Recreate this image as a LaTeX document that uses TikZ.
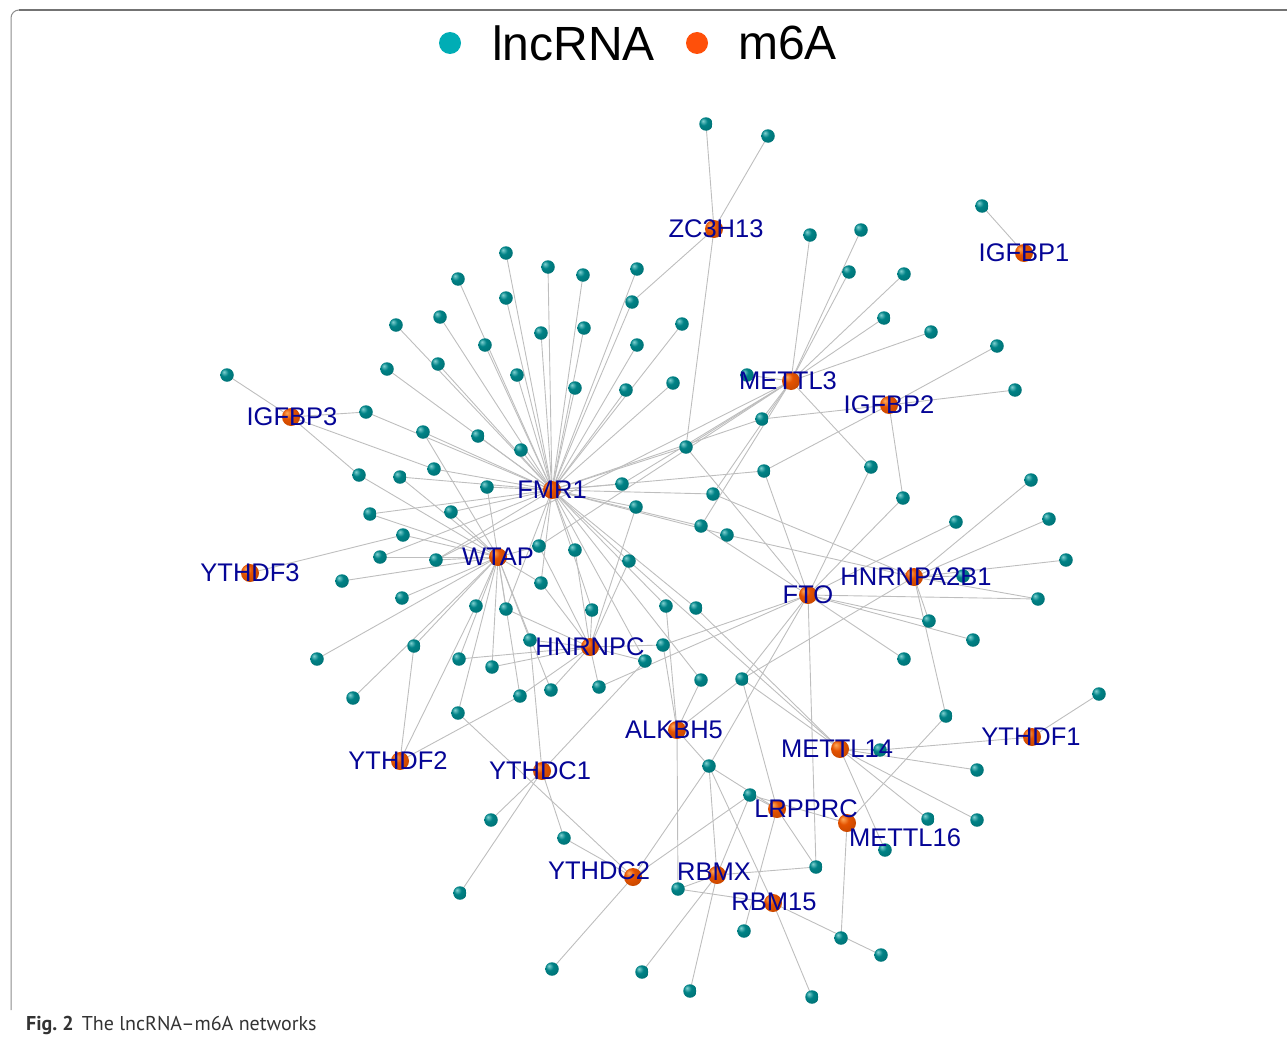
\documentclass[tikz,border=0pt]{standalone}
\usepackage{fontspec}
\setmainfont{Liberation Sans}
\newfontfamily\capfont{PT Sans}
\usetikzlibrary{backgrounds}
\definecolor{tealc}{RGB}{0,130,134}
\definecolor{tealhi}{RGB}{130,210,210}
\definecolor{orangec}{RGB}{228,82,0}
\definecolor{orangehi}{RGB}{255,170,90}
\definecolor{legteal}{RGB}{0,173,181}
\definecolor{legorange}{RGB}{255,80,10}
\definecolor{navy}{RGB}{5,5,150}
\definecolor{edgec}{RGB}{190,190,190}
\pgfdeclareradialshading{tball}{\pgfpoint{-12bp}{12bp}}{color(0bp)=(tealhi); color(14bp)=(tealc); color(36bp)=(tealc!85!black); color(60bp)=(tealc!45!black)}
\pgfdeclareradialshading{oball}{\pgfpoint{-12bp}{12bp}}{color(0bp)=(orangehi); color(14bp)=(orangec); color(36bp)=(orangec!85!black); color(60bp)=(orangec!50!black)}
\tikzset{
  lnc/.style={circle, minimum size=13.5pt, inner sep=0pt, shading=tball},
  hub/.style={circle, minimum size=18pt, inner sep=0pt, shading=oball},
  lab/.style={text=navy, font=\fontsize{25.5}{28}\selectfont, inner sep=0pt},
  edge/.style={draw=edgec, line width=0.9pt},
}
\begin{document}
\begin{tikzpicture}[x=1pt,y=-1pt]
\useasboundingbox (0,0) rectangle (1287,1041);
% frame
\draw[line width=1pt, black!45, rounded corners=8pt] (11,1010) -- (11,10) -- (1287,10);
\draw[line width=2pt, black!55] (19,10) -- (1287,10);
% legend
\node[circle, fill=legteal, minimum size=22pt, inner sep=0pt] (legA) at (450,43) {};
\node[anchor=west, inner sep=0pt, font=\fontsize{48}{48}\selectfont] (legtA) at (492,43) {lncRNA};
\node[circle, fill=legorange, minimum size=22pt, inner sep=0pt] (legB) at (697,43) {};
\node[anchor=west, inner sep=0pt, font=\fontsize{48}{48}\selectfont] (legtB) at (738,43) {m6A};
% lncRNA nodes
\foreach \n/\x/\y in {
1/706/124, 2/768/136, 3/982/206, 4/506/253, 5/810/235, 6/861/230, 7/458/279, 8/548/267,
9/583/275, 10/637/269, 11/849/272, 12/904/274, 13/506/298, 14/632/302, 15/440/317, 16/396/325,
17/682/324, 18/541/333, 19/584/328, 20/884/318, 21/931/332, 22/485/345, 23/637/345, 24/997/346,
25/438/364, 26/387/369, 27/227/375, 28/517/375, 29/575/388, 30/626/390, 31/673/383, 32/747/375,
33/1015/390, 34/366/412, 35/762/419, 36/423/432, 37/478/436, 38/521/450, 39/686/447, 40/871/467,
41/764/471, 42/359/475, 43/400/477, 44/434/469, 45/487/487, 46/622/484, 47/713/494, 48/1031/480,
49/903/498, 50/636/507, 51/370/514, 52/451/512, 53/956/522, 54/1049/519, 55/701/526, 56/727/535,
57/403/535, 58/539/546, 59/575/550, 60/380/557, 61/436/560, 62/629/561, 63/1066/560, 64/342/581,
65/541/583, 66/963/576, 67/402/598, 68/1038/599, 69/476/606, 70/506/609, 71/592/610, 72/666/606,
73/696/608, 74/929/621, 75/530/640, 76/414/646, 77/663/645, 78/973/640, 79/317/659, 80/459/659,
81/645/661, 82/492/667, 83/904/659, 84/701/680, 85/742/679, 86/551/690, 87/599/687, 88/520/696,
89/353/698, 90/1099/694, 91/458/713, 92/946/716, 93/880/750, 94/709/766, 95/977/770, 96/750/795,
97/491/820, 98/928/819, 99/977/820, 100/564/838, 101/885/850, 102/816/867, 103/678/889, 104/460/893,
105/744/931, 106/841/938, 107/881/955, 108/552/969, 109/642/972, 110/690/991, 111/812/997}
  \node[lnc] (l\n) at (\x,\y) {};
% m6A hubs
\foreach \h/\x/\y in {zc/714/229, igA/1024/253, meA/791/381, igB/889/405, igC/291/417, fmr/552/490,
  wtap/498/557, dfC/250/573, fto/808/595, hnab/914/577, hnc/590/647, alk/677/730, meB/840/749,
  dfA/1032/737, dfB/400/761, dcA/542/771, lrp/777/809, meC/847/823, dcB/633/877, rbmx/717/875,
  rbm/773/903}
  \node[hub] (\h) at (\x,\y) {};
% edges
\begin{scope}[on background layer]
\foreach \a/\b in {
l1/zc, l2/zc, l3/igA, l4/fmr, l5/meA, l6/meA, l7/fmr, l8/fmr, l9/fmr, l10/fmr, l11/meA, l12/meA,
l13/fmr, l14/fmr, l14/zc, l15/fmr, l16/fmr, l17/fmr, l18/fmr, l19/fmr, l20/meA, l21/meA, l22/fmr,
l23/fmr, l24/igB, l25/fmr, l26/fmr, l27/igC, l28/fmr, l29/fmr, l30/fmr, l31/fmr, l32/meA, l33/igB,
l34/igC, l34/fmr, l35/meA, l35/igB, l35/fmr, l36/fmr, l36/wtap, l37/fmr, l38/fmr, l39/fmr, l39/meA,
l39/zc, l39/fto, l40/meA, l40/fto, l41/fmr, l41/igB, l41/fto, l42/igC, l42/wtap, l43/fmr, l43/wtap,
l44/igC, l44/fmr, l45/fmr, l45/wtap, l46/fmr, l46/meA, l47/fmr, l47/meA, l47/hnab, l48/hnab,
l49/igB, l49/fto, l50/fmr, l50/hnc, l51/wtap, l51/fmr, l52/fmr, l52/wtap, l53/fto, l54/hnab,
l55/fmr, l55/meA, l55/fto, l56/fmr, l56/hnab, l57/wtap, l57/dfC, l58/fmr, l58/wtap, l58/hnc,
l58/meA, l59/fmr, l59/hnc, l60/wtap, l60/fmr, l61/wtap, l61/fmr, l61/meA, l62/fmr, l62/hnc,
l62/meB, l63/hnab, l64/wtap, l65/wtap, l65/hnc, l65/fmr, l66/hnab, l67/wtap, l68/hnab, l68/fto,
l69/wtap, l69/dfB, l70/wtap, l70/fmr, l70/hnc, l71/fmr, l71/hnc, l72/fmr, l72/alk, l73/fmr,
l73/meB, l74/hnab, l74/fto, l75/wtap, l75/hnc, l75/dcA, l76/wtap, l76/dfB, l77/hnc, l77/fto,
l77/alk, l78/fto, l79/wtap, l80/wtap, l80/hnc, l81/hnc, l81/fmr, l81/dcA, l82/wtap, l82/hnc,
l83/fto, l84/alk, l84/fmr, l85/fto, l85/alk, l85/lrp, l85/meB, l85/hnab, l86/hnc, l86/wtap,
l87/hnc, l87/fto, l88/wtap, l88/hnc, l88/dfB, l89/wtap, l90/dfA, l91/wtap, l91/dcB, l92/hnab,
l92/meC, l93/meB, l93/dfA, l94/alk, l94/rbmx, l94/rbm, l94/dcB, l94/lrp, l94/fto, l95/meB,
l96/rbmx, l96/dcB, l96/lrp, l96/meC, l97/dcA, l98/meB, l99/meB, l100/dcA, l100/dcB, l101/meB,
l102/rbmx, l102/lrp, l102/fto, l103/rbmx, l103/rbm, l103/alk, l104/dcA, l105/lrp, l106/meC,
l107/rbm, l108/dcB, l109/rbmx, l110/rbmx, l111/rbm}
  \draw[edge] (\a.center) -- (\b.center);
\end{scope}
% labels
\node[lab] (tzc) at (716,229) {ZC3H13};
\node[lab] (tigA) at (1024,253) {IGFBP1};
\node[lab] (tmeA) at (788,381) {METTL3};
\node[lab] (tigB) at (889,405) {IGFBP2};
\node[lab] (tigC) at (292,417) {IGFBP3};
\node[lab] (tfmr) at (552,490) {FMR1};
\node[lab] (twtap) at (498,557) {WTAP};
\node[lab] (tdfC) at (250,573) {YTHDF3};
\node[lab] (tfto) at (808,595) {FTO};
\node[lab] (thnab) at (916,577) {HNRNPA2B1};
\node[lab] (thnc) at (590,647) {HNRNPC};
\node[lab] (talk) at (674,730) {ALKBH5};
\node[lab] (tmeB) at (837,749) {METTL14};
\node[lab] (tdfA) at (1031,737) {YTHDF1};
\node[lab] (tdfB) at (398,761) {YTHDF2};
\node[lab] (tdcA) at (540,771) {YTHDC1};
\node[lab] (tlrp) at (806,809) {LRPPRC};
\node[lab] (tmeC) at (905,838) {METTL16};
\node[lab] (tdcB) at (599,871) {YTHDC2};
\node[lab] (trbmx) at (714,872) {RBMX};
\node[lab] (trbm) at (774,902) {RBM15};
% caption
\node[anchor=base west, inner sep=0pt, font=\capfont\fontsize{20}{22}\selectfont, text=black!80] (cap) at (26,1030) {\textbf{Fig.~2}\hspace{8pt}The lncRNA–m6A networks};
\end{tikzpicture}
\end{document}
